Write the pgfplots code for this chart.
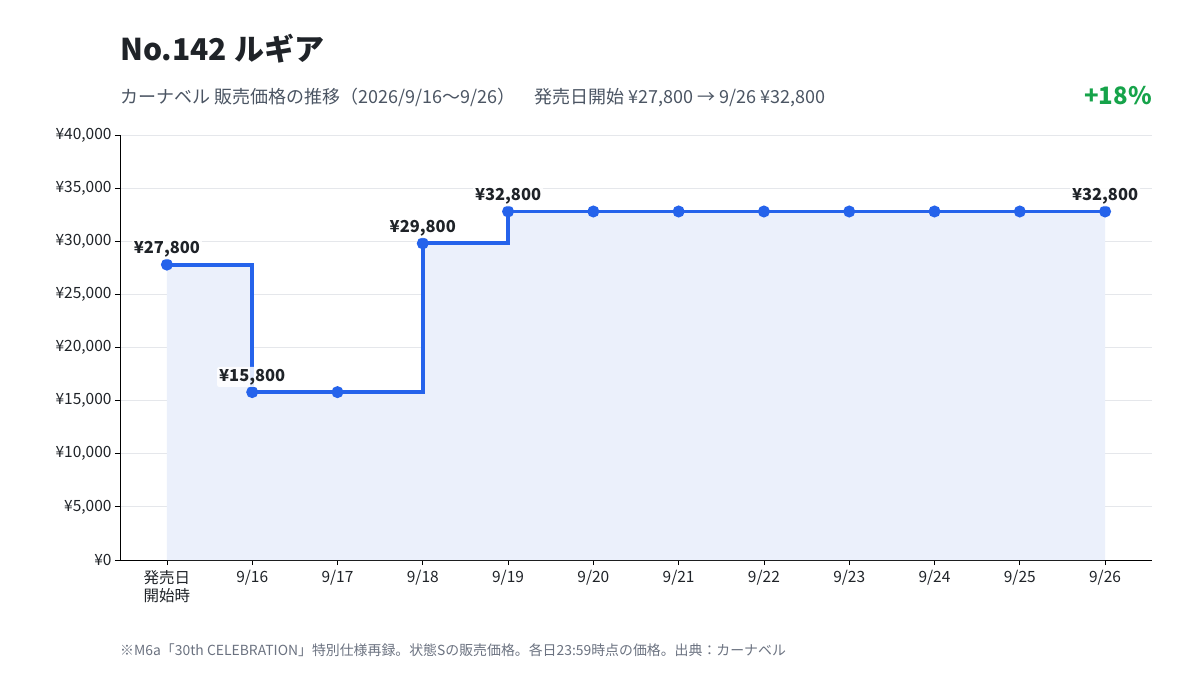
\documentclass[border=0pt]{standalone}
\usepackage{pgfplots}
\pgfplotsset{compat=1.18}
\usepackage{fontspec}
\setmainfont{Noto Sans CJK JP}
\definecolor{lineblue}{HTML}{2563EB}
\definecolor{fillblue}{HTML}{EBF0FB}
\definecolor{gridgray}{HTML}{E5E7EB}
\definecolor{titlec}{HTML}{1F2328}
\definecolor{subc}{HTML}{4B5563}
\definecolor{footc}{HTML}{6B7280}
\definecolor{upgreen}{HTML}{16A34A}
\begin{document}
\begin{tikzpicture}
\begin{axis}[
  at={(0,0)}, anchor=south west,
  scale only axis,
  width=1032bp, height=425bp,
  xmin=-0.55, xmax=11.55,
  ymin=0, ymax=40000,
  axis lines=left,
  axis line style={black, line width=0.8bp, -},
  xtick={0,...,11},
  xticklabels={{発売日\\開始時},9/16,9/17,9/18,9/19,9/20,9/21,9/22,9/23,9/24,9/25,9/26},
  x tick label style={align=center, font=\fontsize{15.5bp}{18bp}\selectfont, text=titlec, yshift=-2bp},
  ytick={0,5000,...,40000},
  scaled y ticks=false,
  yticklabels={{¥0},{¥5,000},{¥10,000},{¥15,000},{¥20,000},{¥25,000},{¥30,000},{¥35,000},{¥40,000}},
  y tick label style={font=\fontsize{15.5bp}{18bp}\selectfont, text=titlec},
  tick style={black, line width=0.8bp},
  tick align=outside,
  major tick length=5bp,
  ymajorgrids,
  major grid style={gridgray, line width=0.8bp},
  clip=false,
  /pgf/number format/assume math mode=true,
]
\addplot[const plot, fill=fillblue, draw=none, forget plot] coordinates {
(0,27800) (1,15800) (2,15800) (3,29800) (4,32800) (5,32800) (6,32800) (7,32800) (8,32800) (9,32800) (10,32800) (11,32800)
} \closedcycle;
\addplot[const plot, lineblue, line width=3.8bp, mark=*, mark size=4bp, mark options={solid, fill=lineblue, draw=none}] coordinates {
(0,27800) (1,15800) (2,15800) (3,29800) (4,32800) (5,32800) (6,32800) (7,32800) (8,32800) (9,32800) (10,32800) (11,32800)
};
\addplot[only marks, mark=none,
  nodes near coords,
  point meta=explicit symbolic,
  every node near coord/.style={anchor=south, yshift=5bp,
    font=\fontsize{16.5bp}{19bp}\selectfont\bfseries, text=titlec,
    fill=white, fill opacity=0.85, text opacity=1, rounded corners=2bp,
    inner sep=2bp}
] table[meta=lab] {
x y lab
0 27800 ¥27,800
1 15800 ¥15,800
3 29800 ¥29,800
4 32800 ¥32,800
11 32800 ¥32,800
};
\end{axis}
\node[anchor=base west, text=titlec, font=\fontsize{30bp}{36bp}\selectfont\bfseries, inner sep=0] at (0bp,499bp) {No.142 ルギア};
\node[anchor=base west, text=subc, font=\fontsize{18bp}{21bp}\selectfont, inner sep=0] at (0bp,456bp) {カーナベル 販売価格の推移（2026/9/16〜9/26）};
\node[anchor=base west, text=subc, font=\fontsize{18bp}{21bp}\selectfont, inner sep=0] at (414bp,456bp) {発売日開始 ¥27,800 → 9/26 ¥32,800};
\node[anchor=base east, text=upgreen, font=\fontsize{24bp}{28bp}\selectfont\bfseries, inner sep=0] at (1032bp,455bp) {+18\%};
\node[anchor=base west, text=footc, font=\fontsize{13.9bp}{16bp}\selectfont, inner sep=0] at (0bp,-95bp) {※M6a「30th CELEBRATION」特別仕様再録。状態Sの販売価格。各日23:59時点の価格。出典：カーナベル};
\path[use as bounding box] (-120bp,-115bp) rectangle (1080bp,560bp);
\end{tikzpicture}
\end{document}
